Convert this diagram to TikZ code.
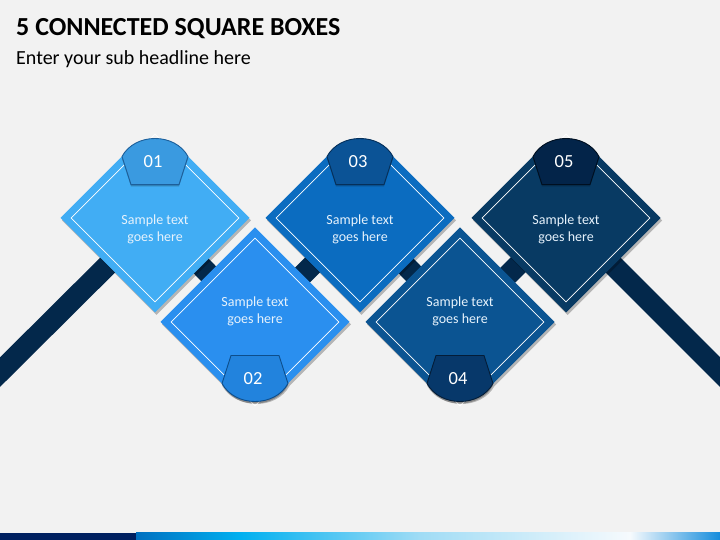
\documentclass[tikz,border=0pt]{standalone}
\usepackage{fontspec}
\setmainfont{Carlito}
\usepackage{tikz}
\usetikzlibrary{shapes.geometric,shadows}
\usepackage{xcolor}
\definecolor{bg}{HTML}{F2F2F2}
\definecolor{navy}{HTML}{03284B}
\definecolor{strip}{HTML}{002060}
\definecolor{boxA}{HTML}{41ADF4}
\definecolor{boxB}{HTML}{2A8FEF}
\definecolor{boxC}{HTML}{0B6CC0}
\definecolor{boxD}{HTML}{0B5492}
\definecolor{boxE}{HTML}{083A63}
\definecolor{tabA}{HTML}{3A9AE0}
\definecolor{tabB}{HTML}{2283DD}
\definecolor{tabC}{HTML}{0B5396}
\definecolor{tabD}{HTML}{07386A}
\definecolor{tabE}{HTML}{032449}
\definecolor{rimA}{HTML}{1D5F9A}
\definecolor{rimB}{HTML}{0D4E8C}
\definecolor{rimC}{HTML}{06305A}
\definecolor{rimD}{HTML}{041D38}
\definecolor{rimE}{HTML}{000F20}
\definecolor{txt}{HTML}{E6F2FC}

\begin{document}
\begin{tikzpicture}[x=1pt,y=1pt,
  box/.style={drop shadow={shadow xshift=1.5pt,shadow yshift=-2.5pt,opacity=0.25,fill=black}},
  frame/.style={diamond,draw=white,line width=0.6pt,minimum width=168pt,minimum height=168pt,inner sep=0pt},
  band/.style={navy,line width=21pt},
  tab/.style={line width=0.9pt,
    drop shadow={shadow xshift=0pt,shadow yshift=-2pt,opacity=0.25,fill=black}},
  sample/.style={txt,align=center,font=\fontsize{14}{17}\selectfont},
  number/.style={white,font=\fontsize{18.5}{20}\selectfont}]
\fill[bg] (0,0) rectangle (720,540);
\useasboundingbox (0,0) rectangle (720,540);
\clip (0,0) rectangle (720,540);

% title
\node[anchor=base west,inner sep=0pt,font=\fontsize{26}{30}\selectfont\bfseries] (title) at (16,504) {5 CONNECTED SQUARE BOXES};
\node[anchor=base west,inner sep=0pt,font=\fontsize{20}{24}\selectfont] (sub) at (16,475) {Enter your sub headline here};

% centres of the boxes
\coordinate (p0) at (-30,138);
\coordinate (c1) at (155,322);
\coordinate (c2) at (255,218);
\coordinate (c3) at (360,322);
\coordinate (c4) at (460,218);
\coordinate (c5) at (566,322);
\coordinate (p6) at (750,138);

% bar behind the boxes
\draw[band] (p0) -- (c1) -- (c2) -- (c3) -- (c4) -- (c5) -- (p6);

\foreach \i/\x/\y/\dir/\boxc/\tabc/\rimc in {1/155/322/1/boxA/tabA/rimA,
    2/255/218/-1/boxB/tabB/rimB, 3/360/322/1/boxC/tabC/rimC,
    4/460/218/-1/boxD/tabD/rimD, 5/566/322/1/boxE/tabE/rimE}{
  % square with its corner cut by the tab
  \fill[box,fill=\boxc] (\x-94.5,\y) -- (\x-33,{\y+61.5*\dir})
    .. controls (\x-20,{\y+85.5*\dir}) and (\x+20,{\y+85.5*\dir}) .. (\x+33,{\y+61.5*\dir})
    -- (\x+94.5,\y) -- (\x,{\y-94.5*\dir}) -- cycle;
  \node[frame] (d\i) at (c\i) {};
  \node[sample] (s\i) at (\x,{\y-11*\dir}) {Sample text\\goes here};
  \draw[tab,fill=\tabc,draw=\rimc] (\x-24,{\y+33.5*\dir}) -- (\x-33,{\y+61.5*\dir})
    .. controls (\x-20,{\y+85.5*\dir}) and (\x+20,{\y+85.5*\dir}) .. (\x+33,{\y+61.5*\dir})
    -- (\x+24,{\y+33.5*\dir}) -- cycle;
  \node[number] (n\i) at (\x-2,{\y+56.5*\dir}) {0\i};
}

% strip at the bottom
\fill[strip] (0,0) rectangle (136,7);
\shade[left color={rgb,255:red,0;green,112;blue,192},right color={rgb,255:red,0;green,176;blue,240}] (136,0) rectangle (240,7);
\shade[left color={rgb,255:red,0;green,176;blue,240},right color={rgb,255:red,160;green,220;blue,245}] (240,0) rectangle (420,7);
\shade[left color={rgb,255:red,160;green,220;blue,245},right color={rgb,255:red,246;green,250;blue,253}] (420,0) rectangle (630,7);
\shade[left color={rgb,255:red,246;green,250;blue,253},right color={rgb,255:red,20;green,140;blue,220}] (630,0) rectangle (720,7);
\end{tikzpicture}
\end{document}
